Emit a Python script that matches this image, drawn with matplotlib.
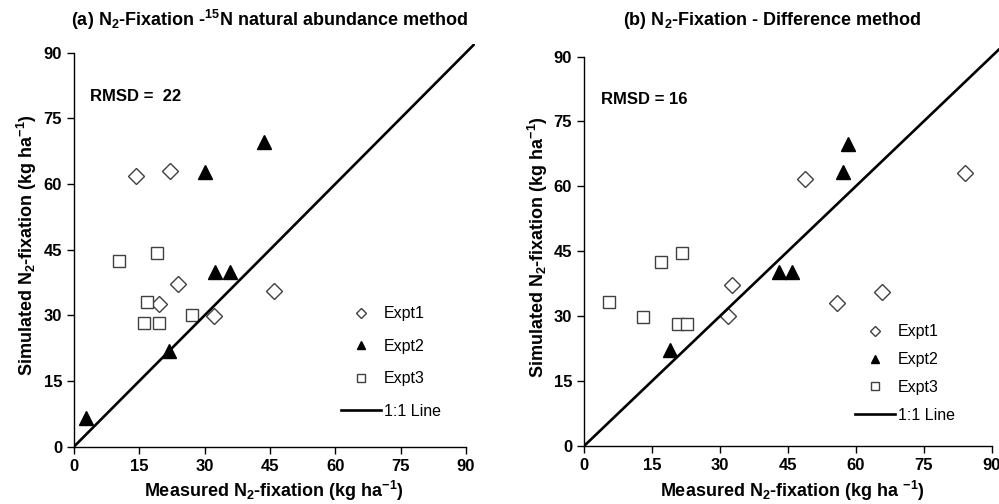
import matplotlib
matplotlib.use('Agg')
import matplotlib.pyplot as plt
import numpy as np

plt.rcParams['font.family'] = 'Liberation Sans'
plt.rcParams['mathtext.fontset'] = 'custom'
plt.rcParams['mathtext.rm'] = 'Liberation Sans:bold'
plt.rcParams['mathtext.default'] = 'rm'

# (a) 15N natural abundance method
a_e1_x = [14.2, 22.1, 23.9, 19.5, 32.1, 46.0]
a_e1_y = [61.9, 63.0, 37.2, 32.6, 29.9, 35.6]
a_e2_x = [43.7, 30.0, 32.5, 35.8, 21.9, 2.7]
a_e2_y = [69.7, 62.8, 40.0, 40.0, 21.9, 6.6]
a_e3_x = [10.4, 19.0, 16.8, 27.1, 16.1, 19.6]
a_e3_y = [42.4, 44.3, 33.0, 30.1, 28.2, 28.2]

# (b) difference method
b_e1_x = [48.9, 84.1, 32.7, 31.7, 55.8, 65.9]
b_e1_y = [61.8, 63.0, 37.2, 30.1, 33.0, 35.6]
b_e2_x = [58.2, 57.2, 43.1, 46.0, 19.0]
b_e2_y = [69.9, 63.3, 40.3, 40.3, 22.2]
b_e3_x = [5.6, 13.0, 16.9, 21.7, 20.7, 22.8]
b_e3_y = [33.2, 29.9, 42.6, 44.5, 28.3, 28.3]

one_to_one = [0, 92]
ticks = [0, 15, 30, 45, 60, 75, 90]

fs = 11.5
fig = plt.figure(figsize=(9.99, 5.04), dpi=100)


def panel(ax, e1x, e1y, e2x, e2y, e3x, e3y, rmsd, xlab, leg_anchor, leg_space):
    ax.plot(e1x, e1y, 'D', mfc='white', mec='0.25', mew=1.0, ms=8.5, label='Expt1')
    ax.plot(e2x, e2y, '^', mfc='black', mec='black', ms=10, label='Expt2')
    ax.plot(e3x, e3y, 's', mfc='white', mec='0.25', mew=1.0, ms=9, label='Expt3')
    ax.plot(one_to_one, one_to_one, '-', color='black', lw=1.9, label='1:1 Line')

    ax.set_xlim(0, 92)
    ax.set_ylim(0, 92)
    ax.set_xticks(ticks)
    ax.set_yticks(ticks)
    for s in ['top', 'right']:
        ax.spines[s].set_visible(False)
    for s in ['left', 'bottom']:
        ax.spines[s].set_bounds(0, 90)
        ax.spines[s].set_linewidth(1.0)
    ax.tick_params(direction='out', length=5, width=1.0, labelsize=12)
    for lab in ax.get_xticklabels() + ax.get_yticklabels():
        lab.set_fontweight('bold')

    ax.set_xlabel(xlab, fontsize=13, fontweight='bold', labelpad=4)
    ax.set_ylabel('Simulated N$_2$-fixation (kg ha$^{-1}$)', fontsize=13,
                  fontweight='bold', labelpad=3)
    ax.text(3.7, 80, rmsd, fontsize=12, fontweight='bold', va='center')

    leg = ax.legend(loc='center left', bbox_to_anchor=leg_anchor, frameon=False,
                    fontsize=fs, markerscale=0.6, handlelength=2.5,
                    handletextpad=0.2, labelspacing=leg_space)
    return leg


ax1 = fig.add_axes([0.074, 0.1137, 0.401, 0.799])
panel(ax1, a_e1_x, a_e1_y, a_e2_x, a_e2_y, a_e3_x, a_e3_y, 'RMSD =  22',
      'Measured N$_2$-fixation (kg ha$^{-1}$)', (0.63, 0.209), 1.1)

ax2 = fig.add_axes([0.5846, 0.115, 0.417, 0.790])
panel(ax2, b_e1_x, b_e1_y, b_e2_x, b_e2_y, b_e3_x, b_e3_y, 'RMSD = 16',
      'Measured N$_2$-fixation (kg ha $^{-1}$)', (0.616, 0.182), 0.8)

fig.text(0.2703, 0.960, '(a) N$_2$-Fixation -$^{15}$N natural abundance method',
         fontsize=13, fontweight='bold', ha='center', va='center')
fig.text(0.7725, 0.960, '(b) N$_2$-Fixation - Difference method',
         fontsize=13, fontweight='bold', ha='center', va='center')

fig.savefig('out.png', dpi=100)
